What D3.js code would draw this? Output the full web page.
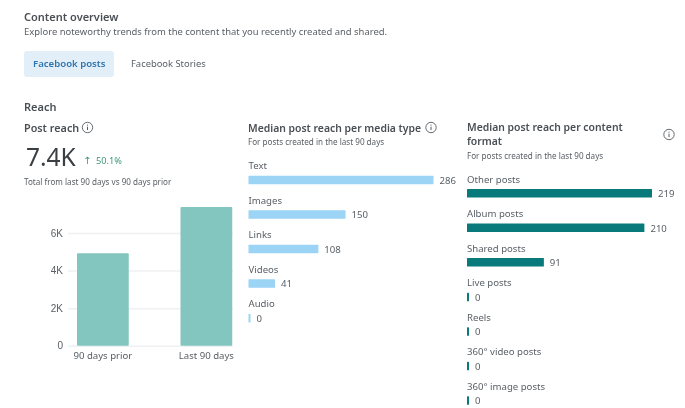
<!DOCTYPE html>
<html>
<head>
<meta charset="utf-8">
<script src="https://cdn.jsdelivr.net/npm/d3@7"></script>
<style>
  html, body { margin: 0; padding: 0; background: #fff; }
  svg { display: block; font-family: "Noto Sans", "Open Sans", sans-serif; filter: blur(0.35px); }
  .tick line { stroke: #eef0f2; stroke-width: 1.5; }
  .tick text { fill: #5a6066; font-size: 10px; }
  .domain { display: none; }
</style>
</head>
<body>
<div id="chart"></div>
<script>
const reach_periods = ["90 days prior", "Last 90 days"]
const reach_values = [4920, 7390]
const reach_ticks = [0, 2000, 4000, 6000]
const reach_tick_labels = ["0", "2K", "4K", "6K"]

const media_types = ["Text", "Images", "Links", "Videos", "Audio"]
const media_values = [286, 150, 108, 41, 0]

const content_formats = ["Other posts", "Album posts", "Shared posts", "Live posts", "Reels", "360° video posts", "360° image posts"]
const content_values = [219, 210, 91, 0, 0, 0, 0]

const dark_text = "#4a4f55"
const mid_text = "#595f65"

let svg = d3.select("#chart").append("svg")
    .attr("width", 685)
    .attr("height", 408)

let add_text = function(x, y, str, size, color, weight) {
    return svg.append("text")
        .attr("x", x)
        .attr("y", y)
        .attr("font-size", size)
        .attr("font-weight", weight || 400)
        .attr("fill", color)
        .text(str)
}

let add_info = function(cx, cy) {
    svg.append("circle")
        .attr("cx", cx).attr("cy", cy).attr("r", 5.2)
        .attr("fill", "none").attr("stroke", "#555b61").attr("stroke-width", 0.9)
    svg.append("line")
        .attr("x1", cx).attr("x2", cx).attr("y1", cy - 0.8).attr("y2", cy + 2.6)
        .attr("stroke", "#555b61").attr("stroke-width", 1)
    svg.append("circle")
        .attr("cx", cx).attr("cy", cy - 2.4).attr("r", 0.6)
        .attr("fill", "#555b61")
}

// header
add_text(24, 21, "Content overview", 11, dark_text, 600)
add_text(24, 35, "Explore noteworthy trends from the content that you recently created and shared.", 9.45, mid_text)

svg.append("rect")
    .attr("x", 24).attr("y", 51).attr("width", 90).attr("height", 26).attr("rx", 3)
    .attr("fill", "#e2eef8")
add_text(33, 67, "Facebook posts", 9.6, "#2f74ad", 600)
add_text(131, 67, "Facebook Stories", 9.4, mid_text)

add_text(24, 111, "Reach", 11, dark_text, 600)

// post reach
add_text(24, 132, "Post reach", 10.8, dark_text, 600)
add_info(87.5, 127.5)
add_text(26, 166, "7.4K", 24.5, "#3a3f44")
add_text(83, 164, "↑", 10, "#3f9a76").style("font-family", "DejaVu Sans")
add_text(96, 164, "50.1%", 9.2, "#3f9a76")
add_text(24, 185, "Total from last 90 days vs 90 days prior", 8.1, mid_text)

let reach_y = d3.scaleLinear()
    .domain([0, 6000])
    .range([345.7, 233])

let reach_x = d3.scaleBand()
    .domain(reach_periods)
    .range([25.25, 284])
    .padding(0.5)

svg.append("g")
    .attr("transform", "translate(68,0)")
    .call(d3.axisLeft(reach_y)
        .tickValues(reach_ticks)
        .tickFormat((d, i) => reach_tick_labels[i])
        .tickSize(-165)
        .tickPadding(5))
    .selectAll("text")
    .attr("font-size", 10)

svg.selectAll(".reach_bar")
    .data(reach_values)
    .enter().append("rect")
    .attr("class", "reach_bar")
    .attr("x", (d, i) => reach_x(reach_periods[i]))
    .attr("y", (d) => reach_y(d))
    .attr("width", reach_x.bandwidth())
    .attr("height", (d) => reach_y(0) - reach_y(d))
    .attr("rx", 1)
    .style("fill", "#83c6bf")

svg.selectAll(".reach_label")
    .data(reach_periods)
    .enter().append("text")
    .attr("class", "reach_label")
    .attr("x", (d) => reach_x(d) + reach_x.bandwidth() / 2)
    .attr("y", 359)
    .attr("text-anchor", "middle")
    .attr("font-size", 9.6)
    .attr("fill", mid_text)
    .text((d) => d)

// horizontal bar lists, one row per category
let draw_list = function(categories, values, left, right, max_value, first_bar_y, color) {
    let x = d3.scaleLinear().domain([0, max_value]).range([left, right])
    let y = d3.scaleBand()
        .domain(categories)
        .range([first_bar_y, first_bar_y + 34.55 * categories.length])

    categories.forEach((name, i) => {
        let top = y(name)
        add_text(left, top - 6.5, name, 9.6, mid_text)
        let bar_width = Math.max(x(values[i]) - left, 2)
        svg.append("rect")
            .attr("x", left)
            .attr("y", top)
            .attr("width", bar_width)
            .attr("height", 8.5)
            .attr("rx", 0.5)
            .style("fill", color)
        add_text(left + bar_width + 6, top + 8, values[i], 9.6, mid_text)
    })
}

// media type
add_text(248, 132, "Median post reach per media type", 10.4, dark_text, 600)
add_info(431, 127.5)
add_text(248, 145, "For posts created in the last 90 days", 8.1, mid_text)
draw_list(media_types, media_values, 248.5, 433.5, 286, 175.7, "#9bd4f5")

// content format
add_text(467, 131, "Median post reach per content", 10.4, dark_text, 600)
add_text(467, 145, "format", 10.4, dark_text, 600)
add_info(669, 134.5)
add_text(467, 158.5, "For posts created in the last 90 days", 8.1, mid_text)
draw_list(content_formats, content_values, 467, 652, 219, 189, "#087a7c")
</script>
</body>
</html>
